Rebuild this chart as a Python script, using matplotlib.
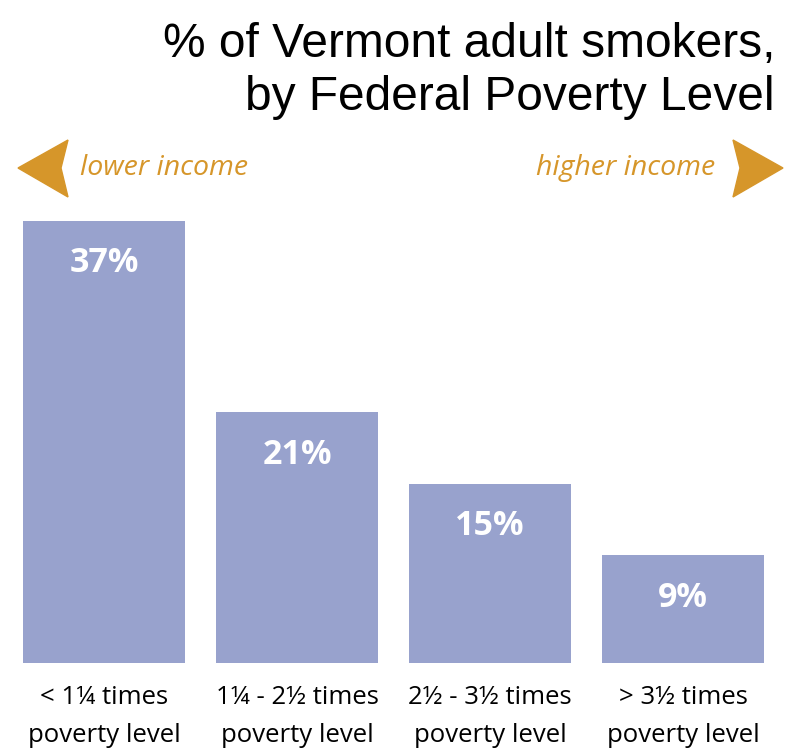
#!/usr/bin/env python3
import matplotlib
matplotlib.use('Agg')
import matplotlib.pyplot as plt
from matplotlib.patches import Polygon


categories = ['< 1¼ times\npoverty level',
              '1¼ - 2½ times\npoverty level',
              '2½ - 3½ times\npoverty level',
              '> 3½ times\npoverty level']
smokers_pct = [37, 21, 15, 9]

bar_color = '#98a2cd'
orange = '#d6962a'
label_font = ['Liberation Sans Narrow', 'Open Sans', 'DejaVu Sans']

fig = plt.figure(figsize=(7.86, 7.51), dpi=100)
ax = fig.add_axes([23 / 786, 88 / 751, 741 / 786, 442 / 751])

x = list(range(len(smokers_pct)))
bars = ax.bar(x, smokers_pct, width=0.84, color=bar_color)
ax.set_xlim(-0.42, 3.42)
ax.set_ylim(0, 37)

for b, v in zip(bars, smokers_pct):
    ax.text(b.get_x() + b.get_width() / 2, v - 3.55, '%d%%' % v,
            ha='center', va='center', color='white', fontsize=24.5,
            fontweight='bold', family=['Open Sans', 'DejaVu Sans'])

ax.set_xticks(x)
ax.set_xticklabels(categories, fontsize=18.5, family=label_font,
                   linespacing=1.65)
ax.tick_params(axis='x', length=0, pad=16)
ax.set_yticks([])
for s in ax.spines.values():
    s.set_visible(False)

# title, right aligned
fig.text(775 / 786, 1 - 71 / 751,
         '% of Vermont adult smokers,\nby Federal Poverty Level',
         ha='right', va='center', fontsize=34.5, family='Liberation Sans',
         linespacing=1.25)


# income arrows
def px(xp, yp):
    return (xp / 786, 1 - yp / 751)


left_arrow = Polygon([px(18, 168), px(68, 140), px(61, 168), px(68, 197)],
                     closed=True, transform=fig.transFigure, color=orange)
right_arrow = Polygon([px(783, 168), px(733, 140), px(740, 168), px(733, 197)],
                      closed=True, transform=fig.transFigure, color=orange)
fig.patches.extend([left_arrow, right_arrow])

fig.text(80 / 786, 1 - 168 / 751, 'lower income', ha='left', va='center',
         fontsize=20.5, style='italic', color=orange,
         family=['Open Sans', 'DejaVu Sans'])
fig.text(715 / 786, 1 - 168 / 751, 'higher income', ha='right', va='center',
         fontsize=20.5, style='italic', color=orange,
         family=['Open Sans', 'DejaVu Sans'])

fig.savefig('out.png', dpi=100)
